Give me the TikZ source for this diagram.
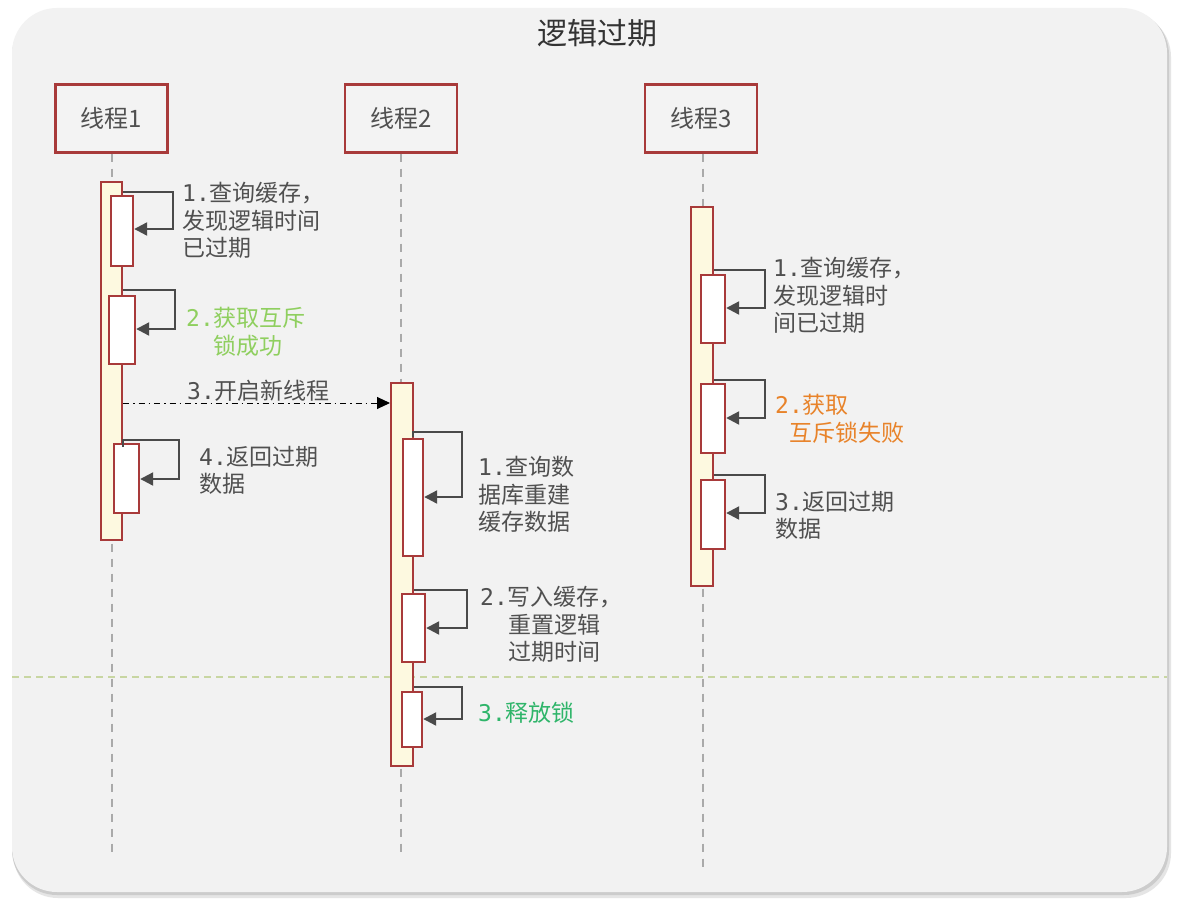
\documentclass[tikz,border=0pt]{standalone}
\usepackage{fontspec}
\usetikzlibrary{arrows.meta}
\newfontfamily\cjk{Noto Sans CJK SC}
\newfontfamily\mono{DejaVu Sans Mono}
\definecolor{boxred}{HTML}{A83A3A}
\definecolor{baryellow}{HTML}{FDF9E0}
\definecolor{panelbg}{HTML}{F2F2F2}
\definecolor{hdrfill}{HTML}{F3F3F3}
\definecolor{arrgray}{HTML}{4A4A4A}
\definecolor{txtgray}{HTML}{505050}
\definecolor{lgreen}{HTML}{8FCF5F}
\definecolor{dgreen}{HTML}{2FB56A}
\definecolor{lorange}{HTML}{E8832A}
\definecolor{lifegray}{HTML}{AAAAAA}
\definecolor{sepgreen}{HTML}{C8D6A2}
\tikzset{
  hdr/.style={draw=boxred, line width=2.2pt, fill=hdrfill, minimum width=112pt, minimum height=68pt, inner sep=0pt, font=\cjk\fontsize{24}{28}\selectfont, text=txtgray},
  actbar/.style={draw=boxred, line width=2.2pt, fill=baryellow, anchor=north west, inner sep=0pt},
  inbox/.style={draw=boxred, line width=2.2pt, fill=white, anchor=north west, inner sep=0pt},
  selfloop/.style={draw=arrgray, line width=2.2pt, -{Triangle[length=13pt,width=13pt]}},
  lifeline/.style={draw=lifegray, line width=1.2pt, dash pattern=on 8pt off 7pt},
  lbl/.style={anchor=north west, inner sep=0pt, align=left, text=txtgray, font=\cjk\fontsize{23}{27.5}\selectfont},
}
\begin{document}
\begin{tikzpicture}[x=1pt,y=-1pt]
\useasboundingbox (0,0) rectangle (1194,899);
\fill[white] (0,0) rectangle (1194,899);
% panel with shadow
\fill[gray!20, rounded corners=45pt] (13,12) rectangle (1171,898);
\fill[gray!40, rounded corners=45pt] (12,10) rectangle (1169,895);
\fill[panelbg, rounded corners=45pt] (12,8) rectangle (1167,892);
% title
\node[font=\cjk\fontsize{30}{34}\selectfont, text=black!80] (title) at (597,33) {逻辑过期};
% headers
\node[hdr] (h1) at (111.5,118.5) {线程1};
\node[hdr] (h2) at (401,118.5) {线程2};
\node[hdr] (h3) at (701,118.5) {线程3};
% lifelines
\coordinate (e1) at (112,853);
\coordinate (e2) at (401,853);
\coordinate (e3) at (703,870);
\draw[lifeline] (h1.south -| e1) -- (e1);
\draw[lifeline] (h2.south -| e2) -- (e2);
\draw[lifeline] (h3.south -| e3) -- (e3);
% separator
\coordinate (sl) at (12,677);
\coordinate (sr) at (1167,677);
\draw[sepgreen, line width=1.2pt, dash pattern=on 7pt off 5pt] (sl) -- (sr);
% thread 1
\node[actbar, minimum width=21pt, minimum height=358pt] (t1) at (100,181) {};
\node[inbox, minimum width=22pt, minimum height=70pt] (t1a) at (110,195) {};
\node[inbox, minimum width=26pt, minimum height=68pt] (t1b) at (108,295) {};
\node[inbox, minimum width=25pt, minimum height=69pt] (t1c) at (113,443) {};
\draw[selfloop] (t1.east |- 0,192) -| (173,229) -- (t1a.east |- 0,229);
\draw[selfloop] (t1.east |- 0,290) -| (175,329) -- (t1b.east |- 0,329);
\draw[selfloop] (123,447) -- (123,440) -| (179,479) -- (t1c.east |- 0,479);
\node[lbl] (l11) at (182,182) {{\mono 1.}查询缓存，\\发现逻辑时间\\已过期};
\node[lbl, text=lgreen] (l12) at (186,307) {{\mono 2.}获取互斥\\\hspace*{27pt}锁成功};
\node[lbl] (l13) at (187,380) {{\mono 3.}开启新线程};
\node[lbl] (l14) at (199,446) {{\mono 4.}返回过期\\数据};
% thread 2
\node[actbar, minimum width=22pt, minimum height=383pt] (t2) at (390,382) {};
\node[inbox, minimum width=20pt, minimum height=117pt] (t2a) at (402,438) {};
\node[inbox, minimum width=23pt, minimum height=68pt] (t2b) at (401,593) {};
\node[inbox, minimum width=20pt, minimum height=55pt] (t2c) at (401,691) {};
\draw[black, line width=1pt, dash pattern=on 6pt off 4pt on 1.5pt off 4pt, -{Triangle[length=13pt,width=12pt]}] (t1.east |- 0,403) -- (t2.west |- 0,403);
\draw[selfloop] (413,437) -- (413,432) -| (462,497) -- (t2a.east |- 0,497);
\draw[selfloop] (t2.east |- 0,590) -| (467,628) -- (t2b.east |- 0,628);
\draw[selfloop] (t2.east |- 0,687) -| (462,719) -- (t2c.east |- 0,719);
\node[lbl] (l21) at (478,456) {{\mono 1.}查询数\\据库重建\\缓存数据};
\node[lbl] (l22) at (480,586) {{\mono 2.}写入缓存，\\\hspace*{28pt}重置逻辑\\\hspace*{28pt}过期时间};
\node[lbl, text=dgreen] (l23) at (478,702) {{\mono 3.}释放锁};
% thread 3
\node[actbar, minimum width=22pt, minimum height=379pt] (t3) at (690,206) {};
\node[inbox, minimum width=24pt, minimum height=68pt] (t3a) at (700,274) {};
\node[inbox, minimum width=24pt, minimum height=69pt] (t3b) at (700,383) {};
\node[inbox, minimum width=24pt, minimum height=69pt] (t3c) at (700,479) {};
\draw[selfloop] (t3.east |- 0,270) -| (765,308) -- (t3a.east |- 0,308);
\draw[selfloop] (t3.east |- 0,380) -| (765,418) -- (t3b.east |- 0,418);
\draw[selfloop] (t3.east |- 0,475) -| (765,513) -- (t3c.east |- 0,513);
\node[lbl] (l31) at (773,257) {{\mono 1.}查询缓存，\\发现逻辑时\\间已过期};
\node[lbl, text=lorange] (l32) at (775,394) {{\mono 2.}获取\\\hspace*{14pt}互斥锁失败};
\node[lbl] (l33) at (775,491) {{\mono 3.}返回过期\\数据};
\end{tikzpicture}
\end{document}
